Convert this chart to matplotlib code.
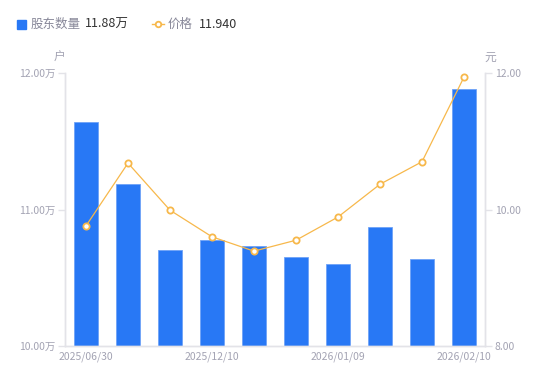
import matplotlib.pyplot as plt
from matplotlib.patches import Rectangle
from matplotlib.lines import Line2D

plt.rcParams['font.family'] = ['Noto Sans CJK SC', 'DejaVu Sans']

# dati
holders = [11.64, 11.19, 10.70, 10.78, 10.73, 10.65, 10.60, 10.87, 10.64, 11.88]  # 万户
price = [9.76, 10.68, 9.99, 9.60, 9.39, 9.55, 9.89, 10.37, 10.70, 11.94]
tick_pos = [0, 3, 6, 9]
tick_labels = ['2025/06/30', '2025/12/10', '2026/01/09', '2026/02/10']

bar_color = '#2878f5'
line_color = '#f7b84b'
grey = '#a3a3b3'
axis_grey = '#e3e3e8'

fig = plt.figure(figsize=(5.5, 3.81), dpi=100)
ax = fig.add_axes([65/550, 35/381, 420/550, 273/381])
x = list(range(len(holders)))
ax.bar(x, holders, width=0.58, color=bar_color, edgecolor='#6fa3f7', linewidth=0.6, zorder=2)
ax.set_ylim(10, 12)
ax.set_xlim(-0.5, len(holders) - 0.5)
ax.set_yticks([10, 11, 12])
ax.set_yticklabels(['10.00万', '11.00万', '12.00万'])
ax.set_xticks(tick_pos)
ax.set_xticklabels(tick_labels)

ax2 = ax.twinx()
ax2.plot(x, price, color=line_color, linewidth=0.9, marker='o', markersize=4.5,
         markerfacecolor='white', markeredgecolor=line_color, markeredgewidth=1.3, zorder=3)
ax2.set_ylim(8, 12)
ax2.set_yticks([8, 10, 12])
ax2.set_yticklabels(['8.00', '10.00', '12.00'])

for a in (ax, ax2):
    for s in a.spines.values():
        s.set_color(axis_grey)
        s.set_linewidth(1)
    a.spines['top'].set_visible(False)
    a.tick_params(axis='y', colors=axis_grey, labelcolor=grey, labelsize=7.5, length=5, width=1, pad=2)
    a.tick_params(axis='x', length=0, labelcolor=grey, labelsize=7.5, pad=4)

# etichette unità
fig.text(59/550, 1 - 57/381, '户', color=grey, fontsize=8.5, ha='center', va='center')
fig.text(490/550, 1 - 57/381, '元', color=grey, fontsize=8.5, ha='center', va='center')

# legenda in alto
fig.patches.append(Rectangle((17/550, 1 - 29/381), 9/550, 9/381, transform=fig.transFigure,
                             color=bar_color, figure=fig))
fig.text(31/550, 1 - 24/381, '股东数量', color='#888899', fontsize=9, va='center')
fig.text(85/550, 1 - 24/381, '11.88万', color='#333333', fontsize=9, va='center')
fig.lines.append(Line2D([152/550, 164/550], [1 - 24/381, 1 - 24/381], transform=fig.transFigure,
                        color=line_color, linewidth=1, figure=fig))
fig.lines.append(Line2D([158/550], [1 - 24/381], transform=fig.transFigure, color=line_color,
                        marker='o', markersize=4, markerfacecolor='white', markeredgewidth=1.3,
                        linestyle='none', figure=fig))
fig.text(168/550, 1 - 24/381, '价格', color='#888899', fontsize=9, va='center')
fig.text(199/550, 1 - 24/381, '11.940', color='#333333', fontsize=9, va='center')

fig.savefig('out.png', dpi=100)
